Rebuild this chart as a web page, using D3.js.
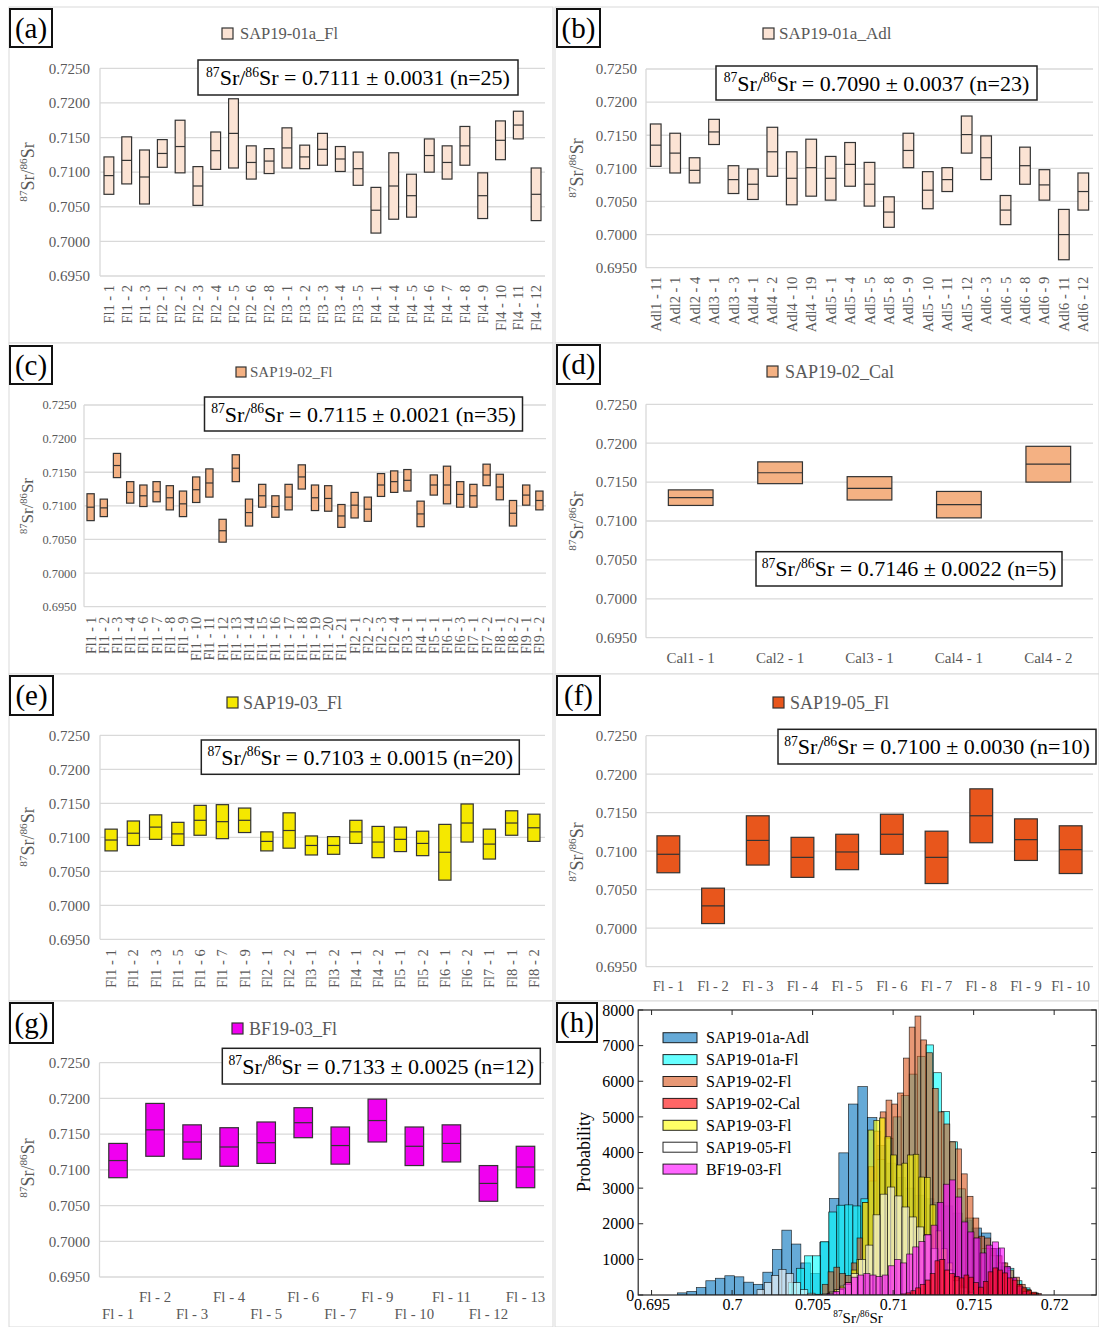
<!DOCTYPE html>
<html>
<head>
<meta charset="utf-8">
<script src="https://cdn.jsdelivr.net/npm/d3@7"></script>
<style>
  html, body { margin: 0; padding: 0; background: #fff; }
</style>
</head>
<body>
<script>
// ---------- data: Sr isotope ratios (centre and half-range) per sample ----------
const yTicks = [0.6950, 0.7000, 0.7050, 0.7100, 0.7150, 0.7200, 0.7250];

const catsA = ["Fl1 - 1","Fl1 - 2","Fl1 - 3","Fl2 - 1","Fl2 - 2","Fl2 - 3","Fl2 - 4","Fl2 - 5","Fl2 - 6","Fl2 - 8","Fl3 - 1","Fl3 - 2","Fl3 - 3","Fl3 - 4","Fl3 - 5","Fl4 - 1","Fl4 - 4","Fl4 - 5","Fl4 - 6","Fl4 - 7","Fl4 - 8","Fl4 - 9","Fl4 - 10","Fl4 - 11","Fl4 - 12"];
const midA = [0.7095,0.7117,0.7093,0.7127,0.7137,0.7080,0.7131,0.7156,0.7114,0.7116,0.7135,0.7122,0.7133,0.7119,0.7105,0.7045,0.7080,0.7066,0.7124,0.7114,0.7138,0.7066,0.7146,0.7168,0.7068];
const errA = [0.0027,0.0034,0.0039,0.0020,0.0038,0.0028,0.0027,0.0050,0.0024,0.0018,0.0029,0.0017,0.0023,0.0018,0.0024,0.0033,0.0048,0.0031,0.0024,0.0024,0.0028,0.0033,0.0028,0.0020,0.0038];
const statA = [0.7111, 0.0031, 25];

const catsB = ["Adl1 - 11","Adl2 - 1","Adl2 - 4","Adl3 - 1","Adl3 - 3","Adl4 - 1","Adl4 - 2","Adl4 - 10","Adl4 - 19","Adl5 - 1","Adl5 - 4","Adl5 - 5","Adl5 - 8","Adl5 - 9","Adl5 - 10","Adl5 - 11","Adl5 - 12","Adl6 - 3","Adl6 - 5","Adl6 - 8","Adl6 - 9","Adl6 - 11","Adl6 - 12"];
const midB = [0.7135,0.7123,0.7097,0.7155,0.7083,0.7076,0.7125,0.7085,0.7101,0.7085,0.7106,0.7076,0.7034,0.7127,0.7067,0.7083,0.7151,0.7116,0.7037,0.7104,0.7075,0.7000,0.7065];
const errB = [0.0032,0.0030,0.0019,0.0019,0.0021,0.0023,0.0037,0.0040,0.0043,0.0033,0.0033,0.0033,0.0023,0.0026,0.0028,0.0018,0.0028,0.0033,0.0022,0.0028,0.0023,0.0038,0.0028];
const statB = [0.7090, 0.0037, 23];

const catsC = ["Fl1 - 1","Fl1 - 2","Fl1 - 3","Fl1 - 4","Fl1 - 6","Fl1 - 7","Fl1 - 8","Fl1 - 9","Fl1 - 10","Fl1 - 11","Fl1 - 12","Fl1 - 13","Fl1 - 14","Fl1 - 15","Fl1 - 16","Fl1 - 17","Fl1 - 18","Fl1 - 19","Fl1 - 20","Fl1 - 21","Fl2 - 1","Fl2 - 2","Fl2 - 3","Fl2 - 4","Fl3 - 1","Fl4 - 1","Fl5 - 1","Fl6 - 1","Fl6 - 3","Fl7 - 1","Fl7 - 2","Fl8 - 1","Fl8 - 2","Fl9 - 1","Fl9 - 2"];
const midC = [0.7098,0.7097,0.7160,0.7120,0.7115,0.7121,0.7112,0.7103,0.7124,0.7134,0.7063,0.7156,0.7090,0.7115,0.7099,0.7113,0.7143,0.7112,0.7111,0.7085,0.7101,0.7095,0.7131,0.7136,0.7138,0.7088,0.7131,0.7131,0.7117,0.7115,0.7146,0.7128,0.7089,0.7116,0.7108];
const errC = [0.0020,0.0013,0.0018,0.0016,0.0016,0.0015,0.0018,0.0019,0.0019,0.0021,0.0017,0.0020,0.0020,0.0017,0.0016,0.0019,0.0018,0.0019,0.0019,0.0017,0.0019,0.0018,0.0017,0.0016,0.0016,0.0019,0.0015,0.0028,0.0019,0.0017,0.0016,0.0019,0.0019,0.0015,0.0014];
const statC = [0.7115, 0.0021, 35];

const catsD = ["Cal1 - 1","Cal2 - 1","Cal3 - 1","Cal4 - 1","Cal4 - 2"];
const midD = [0.7130,0.7162,0.7142,0.7121,0.7173];
const errD = [0.0010,0.0014,0.0015,0.0017,0.0023];
const statD = [0.7146, 0.0022, 5];

const catsE = ["Fl1 - 1","Fl1 - 2","Fl1 - 3","Fl1 - 5","Fl1 - 6","Fl1 - 7","Fl1 - 9","Fl2 - 1","Fl2 - 2","Fl3 - 1","Fl3 - 2","Fl4 - 1","Fl4 - 2","Fl5 - 1","Fl5 - 2","Fl6 - 1","Fl6 - 2","Fl7 - 1","Fl8 - 1","Fl8 - 2"];
const midE = [0.7096,0.7106,0.7115,0.7105,0.7125,0.7123,0.7125,0.7094,0.7110,0.7088,0.7088,0.7108,0.7093,0.7097,0.7091,0.7078,0.7121,0.7090,0.7121,0.7114];
const errE = [0.0016,0.0018,0.0018,0.0017,0.0022,0.0025,0.0018,0.0014,0.0026,0.0014,0.0013,0.0017,0.0023,0.0018,0.0018,0.0041,0.0028,0.0022,0.0018,0.0020];
const statE = [0.7103, 0.0015, 20];

const catsF = ["Fl - 1","Fl - 2","Fl - 3","Fl - 4","Fl - 5","Fl - 6","Fl - 7","Fl - 8","Fl - 9","Fl - 10"];
const midF = [0.7096,0.7029,0.7114,0.7092,0.7099,0.7122,0.7092,0.7146,0.7115,0.7102];
const errF = [0.0024,0.0023,0.0032,0.0026,0.0023,0.0026,0.0034,0.0035,0.0027,0.0031];
const statF = [0.7100, 0.0030, 10];

const catsG = ["Fl - 1","Fl - 2","Fl - 3","Fl - 4","Fl - 5","Fl - 6","Fl - 7","Fl - 9","Fl - 10","Fl - 11","Fl - 12","Fl - 13"];
const midG = [0.7113,0.7156,0.7139,0.7132,0.7138,0.7166,0.7134,0.7169,0.7133,0.7137,0.7081,0.7104];
const errG = [0.0024,0.0037,0.0024,0.0027,0.0029,0.0021,0.0026,0.0030,0.0027,0.0026,0.0025,0.0029];
const statG = [0.7133, 0.0025, 12];

// ---------- histogram data (bin start, bin width, counts) ----------
const histNames = ["SAP19-01a-Adl","SAP19-01a-Fl","SAP19-02-Fl","SAP19-02-Cal","SAP19-03-Fl","SAP19-05-Fl","BF19-03-Fl"];
const histColors = ["#0072BD","#00FFFF","#D95319","#FF0000","#FFFF00","#FFFFFF","#FF00FF"];
const histStarts = [0.6966, 0.7035, 0.7056, 0.7105, 0.7060, 0.70155, 0.7059];
const histWidths = [0.00059, 0.0005, 0.00036, 0.0003, 0.00035, 0.00045, 0.00038];
const countsAdl = [60,100,210,400,470,540,510,360,300,640,1280,1820,1430,900,600,1480,2710,3990,5360,5850,4980,4200,3700,3300,3000,2800,2700,2600,2500,2300,2100,1880,1740,1300,800,400,150,50];
const countsFl01a = [350,750,1100,1100,1500,2330,2520,2530,2500,2700,3200,3800,4400,5000,5600,6200,6700,7020,6240,5150,4300,2980,2160,1600,1300,1100,900,750,400,200,60];
const countsFl02 = [300,650,780,600,550,900,1600,2600,3600,4600,5140,5470,5360,5670,6650,7520,7830,7160,6800,5800,5140,4800,4300,4100,3400,2770,2160,1650,1600,1300,1100,900,700,500,300,150,50];
const countsCal02 = [30,60,120,200,300,420,600,960,1000,700,600,520,480,560,500,350,220,380,650,760,700,620,480,420,300,200,130,80,40];
const countsFl03 = [80,150,250,350,700,1000,2600,4630,4900,4970,4440,3930,3650,3700,3930,3950,3310,3300,2530,1800,1300,900,500,250,100];
const countsFl05 = [150,350,550,720,600,350,150,50,20,30,80,150,300,600,1000,1400,2250,2830,3030,2780,2470,2190,1910,1680,1300,1000,700,400,200,60];
const countsBF = [40,100,200,350,500,560,600,560,520,560,820,1000,900,1150,1350,1500,1700,1960,2600,3110,3230,2750,2050,1770,1600,1180,1400,1490,1320,790,480,250,100,30];
const histCounts = [countsAdl, countsFl01a, countsFl02, countsCal02, countsFl03, countsFl05, countsBF];
const histDrawOrder = [0, 1, 2, 4, 5, 6, 3];
const histXTicks = [0.695, 0.7, 0.705, 0.71, 0.715, 0.72];
const histYTicks = [0,1000,2000,3000,4000,5000,6000,7000,8000];

// ---------- drawing ----------
const SERIF = "'Liberation Serif', 'Times New Roman', serif";
const GRAY = "#595959";
const svg = d3.select("body").append("svg")
  .attr("width", 1099).attr("height", 1327)
  .style("display", "block");

// superscripted 87Sr/86Sr followed by optional tail text
function isoText(sel, fs, tail) {
  const sup = fs * 0.62, up = fs * 0.38;
  sel.append("tspan").attr("font-size", sup).attr("dy", -up).text("87");
  sel.append("tspan").attr("font-size", fs).attr("dy", up).text("Sr/");
  sel.append("tspan").attr("font-size", sup).attr("dy", -up).text("86");
  sel.append("tspan").attr("font-size", fs).attr("dy", up).text("Sr" + (tail || ""));
}

function panelFrame(f) {
  svg.append("rect")
    .attr("x", f[0]).attr("y", f[1])
    .attr("width", f[2] - f[0]).attr("height", f[3] - f[1])
    .attr("fill", "#fff").attr("stroke", "#d9d9d9").attr("stroke-width", 1);
}

function panelTag(t) {
  svg.append("rect").attr("x", t.x).attr("y", t.y).attr("width", t.w).attr("height", t.h)
    .attr("fill", "#fff").attr("stroke", "#111").attr("stroke-width", 2);
  svg.append("text").attr("x", t.x + t.w / 2).attr("y", t.y + t.h / 2 + 9.5)
    .attr("text-anchor", "middle").attr("font-family", SERIF).attr("font-size", 29)
    .attr("fill", "#000").text(t.text);
}

function boxPanel(p) {
  panelFrame(p.frame);
  const g = svg.append("g");
  const y = d3.scaleLinear().domain([0.695, 0.725]).range([p.bottom, p.top]);
  const x = d3.scaleBand().domain(d3.range(p.cats.length))
    .range([p.left, p.right]).paddingInner(p.pad).paddingOuter(p.pad / 2);

  // gridlines and left axis line
  g.selectAll("line.grid").data(yTicks).join("line")
    .attr("x1", p.left).attr("x2", p.right)
    .attr("y1", d => y(d)).attr("y2", d => y(d))
    .attr("stroke", "#d9d9d9").attr("stroke-width", 1.3);
  g.append("line").attr("x1", p.left).attr("x2", p.left)
    .attr("y1", p.top).attr("y2", p.bottom)
    .attr("stroke", "#d9d9d9").attr("stroke-width", 1.3);

  // y tick labels
  const ya = g.append("g").attr("transform", `translate(${p.left - p.tickGap},0)`)
    .call(d3.axisLeft(y).tickValues(yTicks).tickFormat(d3.format(".4f")).tickSize(0).tickPadding(0));
  ya.select(".domain").remove();
  ya.selectAll("text").attr("font-family", SERIF).attr("font-size", p.tickFs).attr("fill", GRAY);

  // x category labels
  const xa = g.append("g").attr("transform", `translate(0,${p.bottom})`)
    .call(d3.axisBottom(x).tickSize(0).tickFormat(i => p.cats[i]));
  xa.select(".domain").remove();
  const xt = xa.selectAll("text").attr("font-family", SERIF).attr("font-size", p.xFs).attr("fill", GRAY);
  if (p.xMode === "rot") {
    xt.attr("transform", "rotate(-90)").attr("x", -p.xGap).attr("y", 0)
      .attr("dy", "0.35em").attr("text-anchor", "end");
  } else if (p.xMode === "flat") {
    xt.attr("y", p.xGap).attr("dy", 0);
  } else {
    xt.attr("y", (d, i) => i % 2 === 1 ? p.xGap : p.xGap2).attr("dy", 0);
  }

  // range boxes with centre line
  g.selectAll("rect.box").data(p.mid).join("rect")
    .attr("x", (d, i) => x(i)).attr("width", x.bandwidth())
    .attr("y", (d, i) => y(d + p.err[i]))
    .attr("height", (d, i) => y(d - p.err[i]) - y(d + p.err[i]))
    .attr("fill", p.fill).attr("stroke", "#333").attr("stroke-width", 1.2);
  g.selectAll("line.mid").data(p.mid).join("line")
    .attr("x1", (d, i) => x(i)).attr("x2", (d, i) => x(i) + x.bandwidth())
    .attr("y1", d => y(d)).attr("y2", d => y(d))
    .attr("stroke", "#333").attr("stroke-width", 1.2);

  // y title
  const yt = g.append("text")
    .attr("transform", `translate(${p.yTitle[0]},${p.yTitle[1]}) rotate(-90)`)
    .attr("text-anchor", "middle").attr("font-family", SERIF).attr("fill", GRAY)
    .attr("dy", "0.35em");
  isoText(yt, p.yTitleFs);

  // legend
  g.append("rect").attr("x", p.leg.x).attr("y", p.leg.y).attr("width", p.leg.s).attr("height", p.leg.s)
    .attr("fill", p.fill).attr("stroke", "#333").attr("stroke-width", 1.2);
  g.append("text").attr("x", p.leg.tx).attr("y", p.leg.y + p.leg.s / 2).attr("dy", "0.35em")
    .attr("font-family", SERIF).attr("font-size", p.leg.fs).attr("fill", GRAY).text(p.leg.text);

  // summary box
  g.append("rect").attr("x", p.stat.x).attr("y", p.stat.y).attr("width", p.stat.w).attr("height", p.stat.h)
    .attr("fill", "#fff").attr("stroke", "#222").attr("stroke-width", 1.5);
  const st = g.append("text").attr("x", p.stat.x + p.stat.w / 2).attr("y", p.stat.y + p.stat.h / 2 + 7.5)
    .attr("text-anchor", "middle").attr("font-family", SERIF).attr("fill", "#000");
  isoText(st, 22, ` = ${p.vals[0].toFixed(4)} ± ${p.vals[1].toFixed(4)} (n=${p.vals[2]})`);

  panelTag(p.tag);
}

const PEACH = "#fbe3d4", ORANGE = "#f4b183", YELLOW = "#f5e800", RED = "#e8561c", MAGENTA = "#f000f0";

boxPanel({ frame: [9, 7, 553, 343], left: 100, right: 545, top: 68.3, bottom: 276,
  cats: catsA, mid: midA, err: errA, vals: statA, fill: PEACH, pad: 0.45,
  tickGap: 10, tickFs: 15, xMode: "rot", xGap: 9, xFs: 14.5,
  yTitle: [34, 172], yTitleFs: 18,
  leg: { x: 222, y: 28, s: 11, tx: 240, fs: 16.5, text: "SAP19-01a_Fl" },
  stat: { x: 198, y: 60, w: 320, h: 35 },
  tag: { x: 10, y: 9, w: 42, h: 38, text: "(a)" } });

boxPanel({ frame: [555, 7, 1099, 343], left: 646, right: 1093, top: 69, bottom: 267.7,
  cats: catsB, mid: midB, err: errB, vals: statB, fill: PEACH, pad: 0.45,
  tickGap: 9, tickFs: 15, xMode: "rot", xGap: 9, xFs: 14.5,
  yTitle: [583, 168], yTitleFs: 18,
  leg: { x: 763, y: 28, s: 11, tx: 779, fs: 17, text: "SAP19-01a_Adl" },
  stat: { x: 716, y: 66, w: 321, h: 34 },
  tag: { x: 557, y: 9, w: 43, h: 38, text: "(b)" } });

boxPanel({ frame: [9, 343, 553, 674], left: 84, right: 546, top: 405, bottom: 606.7,
  cats: catsC, mid: midC, err: errC, vals: statC, fill: ORANGE, pad: 0.45,
  tickGap: 7.5, tickFs: 12.4, xMode: "rot", xGap: 10, xFs: 14,
  yTitle: [33, 506], yTitleFs: 17,
  leg: { x: 236, y: 367, s: 10, tx: 250, fs: 15, text: "SAP19-02_Fl" },
  stat: { x: 204.5, y: 397, w: 318, h: 34 },
  tag: { x: 10, y: 346, w: 42, h: 38, text: "(c)" } });

boxPanel({ frame: [555, 343, 1099, 674], left: 646, right: 1093, top: 404.3, bottom: 637.7,
  cats: catsD, mid: midD, err: errD, vals: statD, fill: ORANGE, pad: 0.5,
  tickGap: 9, tickFs: 15, xMode: "flat", xGap: 25.3, xFs: 15,
  yTitle: [583, 521], yTitleFs: 18,
  leg: { x: 767, y: 366, s: 11, tx: 785, fs: 18, text: "SAP19-02_Cal" },
  stat: { x: 756, y: 551.7, w: 306, h: 34.3 },
  tag: { x: 557, y: 345, w: 43, h: 39, text: "(d)" } });

boxPanel({ frame: [9, 674, 553, 1001], left: 100, right: 545, top: 735.3, bottom: 939.3,
  cats: catsE, mid: midE, err: errE, vals: statE, fill: YELLOW, pad: 0.45,
  tickGap: 10, tickFs: 15, xMode: "rot", xGap: 10, xFs: 14.5,
  yTitle: [34, 837], yTitleFs: 18,
  leg: { x: 227, y: 697, s: 11, tx: 243, fs: 18, text: "SAP19-03_Fl" },
  stat: { x: 201.3, y: 740, w: 318, h: 34.3 },
  tag: { x: 10, y: 676, w: 43, h: 39, text: "(e)" } });

boxPanel({ frame: [555, 674, 1099, 1001], left: 646, right: 1093, top: 735.7, bottom: 966.7,
  cats: catsF, mid: midF, err: errF, vals: statF, fill: RED, pad: 0.49,
  tickGap: 9, tickFs: 15, xMode: "flat", xGap: 24.3, xFs: 14.5,
  yTitle: [583, 852], yTitleFs: 18,
  leg: { x: 773, y: 697, s: 11, tx: 790, fs: 18, text: "SAP19-05_Fl" },
  stat: { x: 778, y: 729.3, w: 318, h: 34.7 },
  tag: { x: 557, y: 676, w: 43, h: 39, text: "(f)" } });

boxPanel({ frame: [9, 1001, 553, 1327], left: 99.5, right: 544, top: 1062.7, bottom: 1277,
  cats: catsG, mid: midG, err: errG, vals: statG, fill: MAGENTA, pad: 0.5,
  tickGap: 9.5, tickFs: 15, xMode: "stagger", xGap: 25, xGap2: 42, xFs: 14.8,
  yTitle: [34, 1168], yTitleFs: 18,
  leg: { x: 232, y: 1023, s: 11, tx: 249, fs: 18, text: "BF19-03_Fl" },
  stat: { x: 222.3, y: 1048.3, w: 318, h: 35.7 },
  tag: { x: 10, y: 1003, w: 43, h: 40, text: "(g)" } });

// ---------- (h) probability histograms ----------
(function histPanel() {
  panelFrame([555, 1001, 1099, 1327]);
  const L = 638.2, R = 1096.2, T = 1010, B = 1295;
  const x = d3.scaleLinear().domain([0.69417, 0.72261]).range([L, R]);
  const y = d3.scaleLinear().domain([0, 8000]).range([B, T]);
  const g = svg.append("g");
  g.append("clipPath").attr("id", "hclip").append("rect")
    .attr("x", L).attr("y", T).attr("width", R - L).attr("height", B - T);
  const bars = g.append("g").attr("clip-path", "url(#hclip)");

  histDrawOrder.forEach(k => {
    const bins = histCounts[k].map((c, i) => ({
      x0: histStarts[k] + i * histWidths[k],
      x1: histStarts[k] + (i + 1) * histWidths[k], c }));
    bars.append("g").selectAll("rect").data(bins).join("rect")
      .attr("x", d => x(d.x0)).attr("width", d => x(d.x1) - x(d.x0))
      .attr("y", d => y(d.c)).attr("height", d => y(0) - y(d.c))
      .attr("fill", histColors[k]).attr("fill-opacity", 0.6)
      .attr("stroke", "#000").attr("stroke-opacity", 0.8).attr("stroke-width", 0.7);
  });

  // frame with inward ticks on all sides
  g.append("rect").attr("x", L).attr("y", T).attr("width", R - L).attr("height", B - T)
    .attr("fill", "none").attr("stroke", "#262626").attr("stroke-width", 1.2);
  const tl = 5;
  histXTicks.forEach(v => {
    g.append("line").attr("x1", x(v)).attr("x2", x(v)).attr("y1", B).attr("y2", B - tl).attr("stroke", "#262626");
    g.append("line").attr("x1", x(v)).attr("x2", x(v)).attr("y1", T).attr("y2", T + tl).attr("stroke", "#262626");
  });
  histYTicks.forEach(v => {
    g.append("line").attr("x1", L).attr("x2", L + tl).attr("y1", y(v)).attr("y2", y(v)).attr("stroke", "#262626");
    g.append("line").attr("x1", R).attr("x2", R - tl).attr("y1", y(v)).attr("y2", y(v)).attr("stroke", "#262626");
  });

  const xa = g.append("g").attr("transform", `translate(0,${B})`)
    .call(d3.axisBottom(x).tickValues(histXTicks).tickFormat(v => String(+v.toFixed(3))).tickSize(0).tickPadding(4));
  xa.select(".domain").remove();
  xa.selectAll("text").attr("font-family", SERIF).attr("font-size", 16).attr("fill", "#000");
  const ya = g.append("g").attr("transform", `translate(${L - 4},0)`)
    .call(d3.axisLeft(y).tickValues(histYTicks).tickFormat(d3.format("d")).tickSize(0).tickPadding(0));
  ya.select(".domain").remove();
  ya.selectAll("text").attr("font-family", SERIF).attr("font-size", 16).attr("fill", "#000");

  const xt = g.append("text").attr("x", 858).attr("y", 1323).attr("text-anchor", "middle")
    .attr("font-family", SERIF).attr("fill", "#000");
  isoText(xt, 15);
  g.append("text").attr("transform", "translate(584,1152) rotate(-90)")
    .attr("text-anchor", "middle").attr("dy", "0.35em")
    .attr("font-family", SERIF).attr("font-size", 18).attr("fill", "#000").text("Probability");

  // legend
  const leg = g.append("g");
  histNames.forEach((name, k) => {
    const cy = 1037.7 + k * 21.9;
    leg.append("rect").attr("x", 663).attr("y", cy - 5).attr("width", 34).attr("height", 10)
      .attr("fill", histColors[k]).attr("fill-opacity", 0.6)
      .attr("stroke", "#000").attr("stroke-opacity", 0.85).attr("stroke-width", 1);
    leg.append("text").attr("x", 706).attr("y", cy).attr("dy", "0.35em")
      .attr("font-family", SERIF).attr("font-size", 16).attr("fill", "#000").text(name);
  });

  panelTag({ x: 557, y: 1003, w: 40, h: 39, text: "(h)" });
})();
</script>
</body>
</html>
